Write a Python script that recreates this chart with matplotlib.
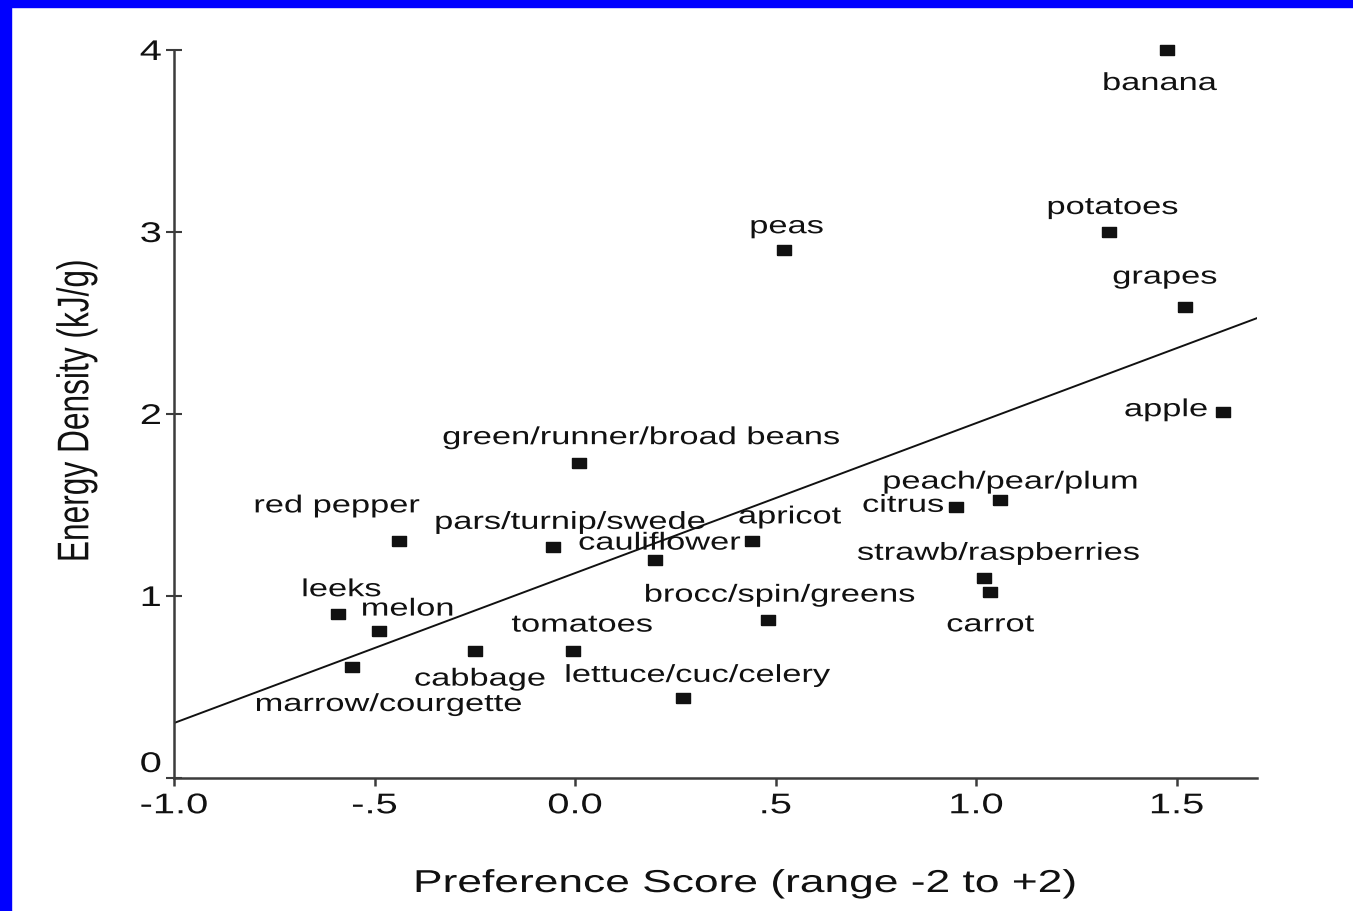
import matplotlib
matplotlib.use("Agg")
from matplotlib import pyplot as plt
from matplotlib import patheffects
from matplotlib.patches import Rectangle
from matplotlib.transforms import Affine2D
import numpy as np


foods = ["banana", "potatoes", "grapes", "apple", "peas",
         "green/runner/broad beans", "peach/pear/plum", "citrus", "apricot",
         "cauliflower", "pars/turnip/swede", "red pepper", "strawb/raspberries",
         "carrot", "brocc/spin/greens", "leeks", "melon", "tomatoes",
         "cabbage", "marrow/courgette", "lettuce/cuc/celery"]
preference = [1.475, 1.33, 1.52, 1.615, 0.52,
              0.01, 1.06, 0.95, 0.44,
              0.20, -0.055, -0.44, 1.02,
              1.035, 0.48, -0.59, -0.49, -0.005,
              -0.25, -0.555, 0.27]
energy = [4.0, 3.0, 2.59, 2.01, 2.90,
          1.73, 1.53, 1.49, 1.30,
          1.20, 1.27, 1.30, 1.10,
          1.02, 0.87, 0.90, 0.81, 0.70,
          0.70, 0.61, 0.44]

# least squares line quoted with the figure
fit_intercept = 1.126
fit_slope = 0.824

x_ticks = [-1.0, -0.5, 0.0, 0.5, 1.0, 1.5]
x_ticklabels = ["-1.0", "-.5", "0.0", ".5", "1.0", "1.5"]
y_ticks = [0, 1, 2, 3, 4]
y_ticklabels = ["0", "1", "2", "3", "4"]

# where each name sits relative to its point (pixels, y up)
label_offsets = {
    "banana": (-7, -33), "potatoes": (4, 25), "grapes": (-20, 30),
    "apple": (-57, 3), "peas": (3, 24), "green/runner/broad beans": (62, 26),
    "peach/pear/plum": (10, 18), "citrus": (-53, 2), "apricot": (38, 25),
    "cauliflower": (4, 17), "pars/turnip/swede": (17, 25),
    "red pepper": (-62, 36), "strawb/raspberries": (14, 25),
    "carrot": (0, -32), "brocc/spin/greens": (12, 25), "leeks": (3, 25),
    "melon": (29, 22), "tomatoes": (9, 26), "cabbage": (5, -28),
    "marrow/courgette": (36, -37), "lettuce/cuc/celery": (14, 23),
}


class Widen(patheffects.AbstractPathEffect):
    """stretch glyphs sideways about their own centre"""
    def __init__(self, sx=1.4):
        super().__init__()
        self.sx = sx

    def draw_path(self, renderer, gc, tpath, affine, rgbFace=None):
        ext = tpath.get_extents(affine)
        cx = (ext.x0 + ext.x1) / 2
        wide = affine + Affine2D().translate(-cx, 0).scale(self.sx, 1).translate(cx, 0)
        renderer.draw_path(gc, tpath, wide, rgbFace)


plt.rcParams['font.family'] = ['Liberation Sans', 'DejaVu Sans']
ink = "#111111"
wide = [Widen(1.4)]

W, H = 1353, 912
fig = plt.figure(figsize=(W / 100, H / 100), dpi=100)
fig.patch.set_facecolor("white")
ax = fig.add_axes([174 / W, 1 - 779 / H, (1257 - 174) / W, (779 - 51) / H])

# blue frame strips on the left and top
fig.add_artist(Rectangle((0, 0), 11 / W, 1, transform=fig.transFigure,
                         color="#0000ff", zorder=10))
fig.add_artist(Rectangle((0, 1 - 8 / H), 1, 8 / H, transform=fig.transFigure,
                         color="#0000ff", zorder=10))

ax.set_xlim(-1.0, 1.7)
ax.set_ylim(0, 4)

xs = np.array([-1.0, 1.7])
ax.plot(xs, fit_intercept + fit_slope * xs, color=ink, lw=1.4, zorder=2)

box = [(-0.7, -0.5), (0.7, -0.5), (0.7, 0.5), (-0.7, 0.5), (-0.7, -0.5)]
ax.plot(preference, energy, linestyle="none", marker=box, markersize=9.5,
        color=ink, clip_on=False, zorder=3)

for name, px, ey in zip(foods, preference, energy):
    dx, dy = label_offsets[name]
    ax.annotate(name, (px, ey), xytext=(dx, dy), textcoords="offset pixels",
                ha="center", va="center", fontsize=17.7, color=ink,
                path_effects=wide, annotation_clip=False)

for side in ["top", "right"]:
    ax.spines[side].set_visible(False)
for side in ["left", "bottom"]:
    ax.spines[side].set_color("#3c3c3c")
    ax.spines[side].set_linewidth(1.8)

ax.set_xticks(x_ticks, labels=x_ticklabels)
ax.set_yticks(y_ticks, labels=y_ticklabels)
ax.tick_params(axis="x", direction="out", length=6, width=1.8, color="#3c3c3c",
               pad=5, labelsize=20.5, labelcolor=ink)
ax.tick_params(axis="y", direction="inout", length=12, width=1.5, color="#3c3c3c",
               pad=5, labelsize=20.5, labelcolor=ink)
for lbl in ax.get_xticklabels() + ax.get_yticklabels():
    lbl.set_path_effects(wide)
ax.get_yticklabels()[0].set_va("bottom")

fig.text(745 / W, 1 - 885 / H, "Preference Score (range -2 to +2)",
         ha="center", va="center", fontsize=22.8, color=ink, path_effects=wide)
fig.text(77 / W, 1 - 412 / H, "Energy Density (kJ/g)", rotation=90,
         ha="center", va="center", fontsize=22.8, color=ink, path_effects=wide)

fig.savefig("out.png", dpi=100, facecolor="white")
